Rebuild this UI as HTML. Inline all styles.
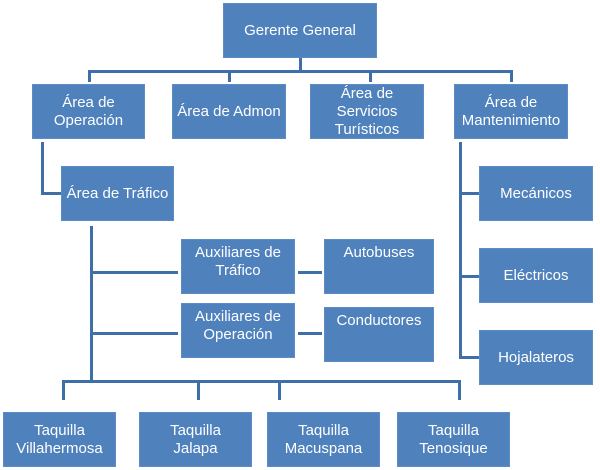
<!DOCTYPE html>
<html><head><meta charset="utf-8"><style>
body{margin:0;width:600px;height:470px;background:#fff;position:relative;overflow:hidden;font-family:"Liberation Sans",sans-serif}
.b{position:absolute;background:#4f81bd;color:#fff;font-size:15px;line-height:18px;text-align:center;display:flex;align-items:center;justify-content:center;box-sizing:border-box;border:1px solid #5b8cc6;white-space:nowrap}
.t{align-items:flex-start;padding-top:4px}
.l{position:absolute;background:#3f6fa9}
</style></head><body>
<div class="l" style="left:299px;top:58px;width:3px;height:14px"></div>
<div class="l" style="left:88px;top:70px;width:425px;height:3px"></div>
<div class="l" style="left:88px;top:70px;width:3px;height:12px"></div>
<div class="l" style="left:228px;top:70px;width:3px;height:12px"></div>
<div class="l" style="left:369px;top:70px;width:3px;height:12px"></div>
<div class="l" style="left:510px;top:70px;width:3px;height:12px"></div>
<div class="l" style="left:41px;top:142px;width:3px;height:52px"></div>
<div class="l" style="left:41px;top:192px;width:20px;height:3px"></div>
<div class="l" style="left:459px;top:142px;width:3px;height:217px"></div>
<div class="l" style="left:459px;top:192px;width:20px;height:3px"></div>
<div class="l" style="left:459px;top:275px;width:20px;height:3px"></div>
<div class="l" style="left:459px;top:356px;width:20px;height:3px"></div>
<div class="l" style="left:90px;top:226px;width:3px;height:156px"></div>
<div class="l" style="left:90px;top:271px;width:88px;height:3px"></div>
<div class="l" style="left:90px;top:332px;width:88px;height:3px"></div>
<div class="l" style="left:298px;top:271px;width:24px;height:3px"></div>
<div class="l" style="left:298px;top:332px;width:24px;height:3px"></div>
<div class="l" style="left:62px;top:380px;width:399px;height:3px"></div>
<div class="l" style="left:62px;top:380px;width:3px;height:20px"></div>
<div class="l" style="left:197px;top:380px;width:3px;height:20px"></div>
<div class="l" style="left:278px;top:380px;width:3px;height:20px"></div>
<div class="l" style="left:458px;top:380px;width:3px;height:20px"></div>
<div class="b" style="left:223px;top:3px;width:154px;height:55px">Gerente General</div>
<div class="b" style="left:32px;top:84px;width:113px;height:55px">Área de<br>Operación</div>
<div class="b" style="left:172px;top:84px;width:114px;height:55px">Área de Admon</div>
<div class="b" style="left:310px;top:84px;width:114px;height:55px">Área de<br>Servicios<br>Turísticos</div>
<div class="b" style="left:454px;top:84px;width:114px;height:55px">Área de<br>Mantenimiento</div>
<div class="b" style="left:61px;top:166px;width:113px;height:55px">Área de Tráfico</div>
<div class="b" style="left:479px;top:166px;width:114px;height:55px">Mecánicos</div>
<div class="b" style="left:479px;top:248px;width:114px;height:55px">Eléctricos</div>
<div class="b" style="left:479px;top:330px;width:114px;height:55px">Hojalateros</div>
<div class="b t" style="left:181px;top:239px;width:114px;height:55px">Auxiliares de<br>Tráfico</div>
<div class="b t" style="left:324px;top:239px;width:110px;height:55px">Autobuses</div>
<div class="b t" style="left:181px;top:303px;width:114px;height:55px">Auxiliares de<br>Operación</div>
<div class="b t" style="left:324px;top:307px;width:110px;height:55px">Conductores</div>
<div class="b" style="left:3px;top:412px;width:113px;height:55px">Taquilla<br>Villahermosa</div>
<div class="b" style="left:139px;top:412px;width:113px;height:55px">Taquilla<br>Jalapa</div>
<div class="b" style="left:267px;top:412px;width:113px;height:55px">Taquilla<br>Macuspana</div>
<div class="b" style="left:397px;top:412px;width:113px;height:55px">Taquilla<br>Tenosique</div>
</body></html>
